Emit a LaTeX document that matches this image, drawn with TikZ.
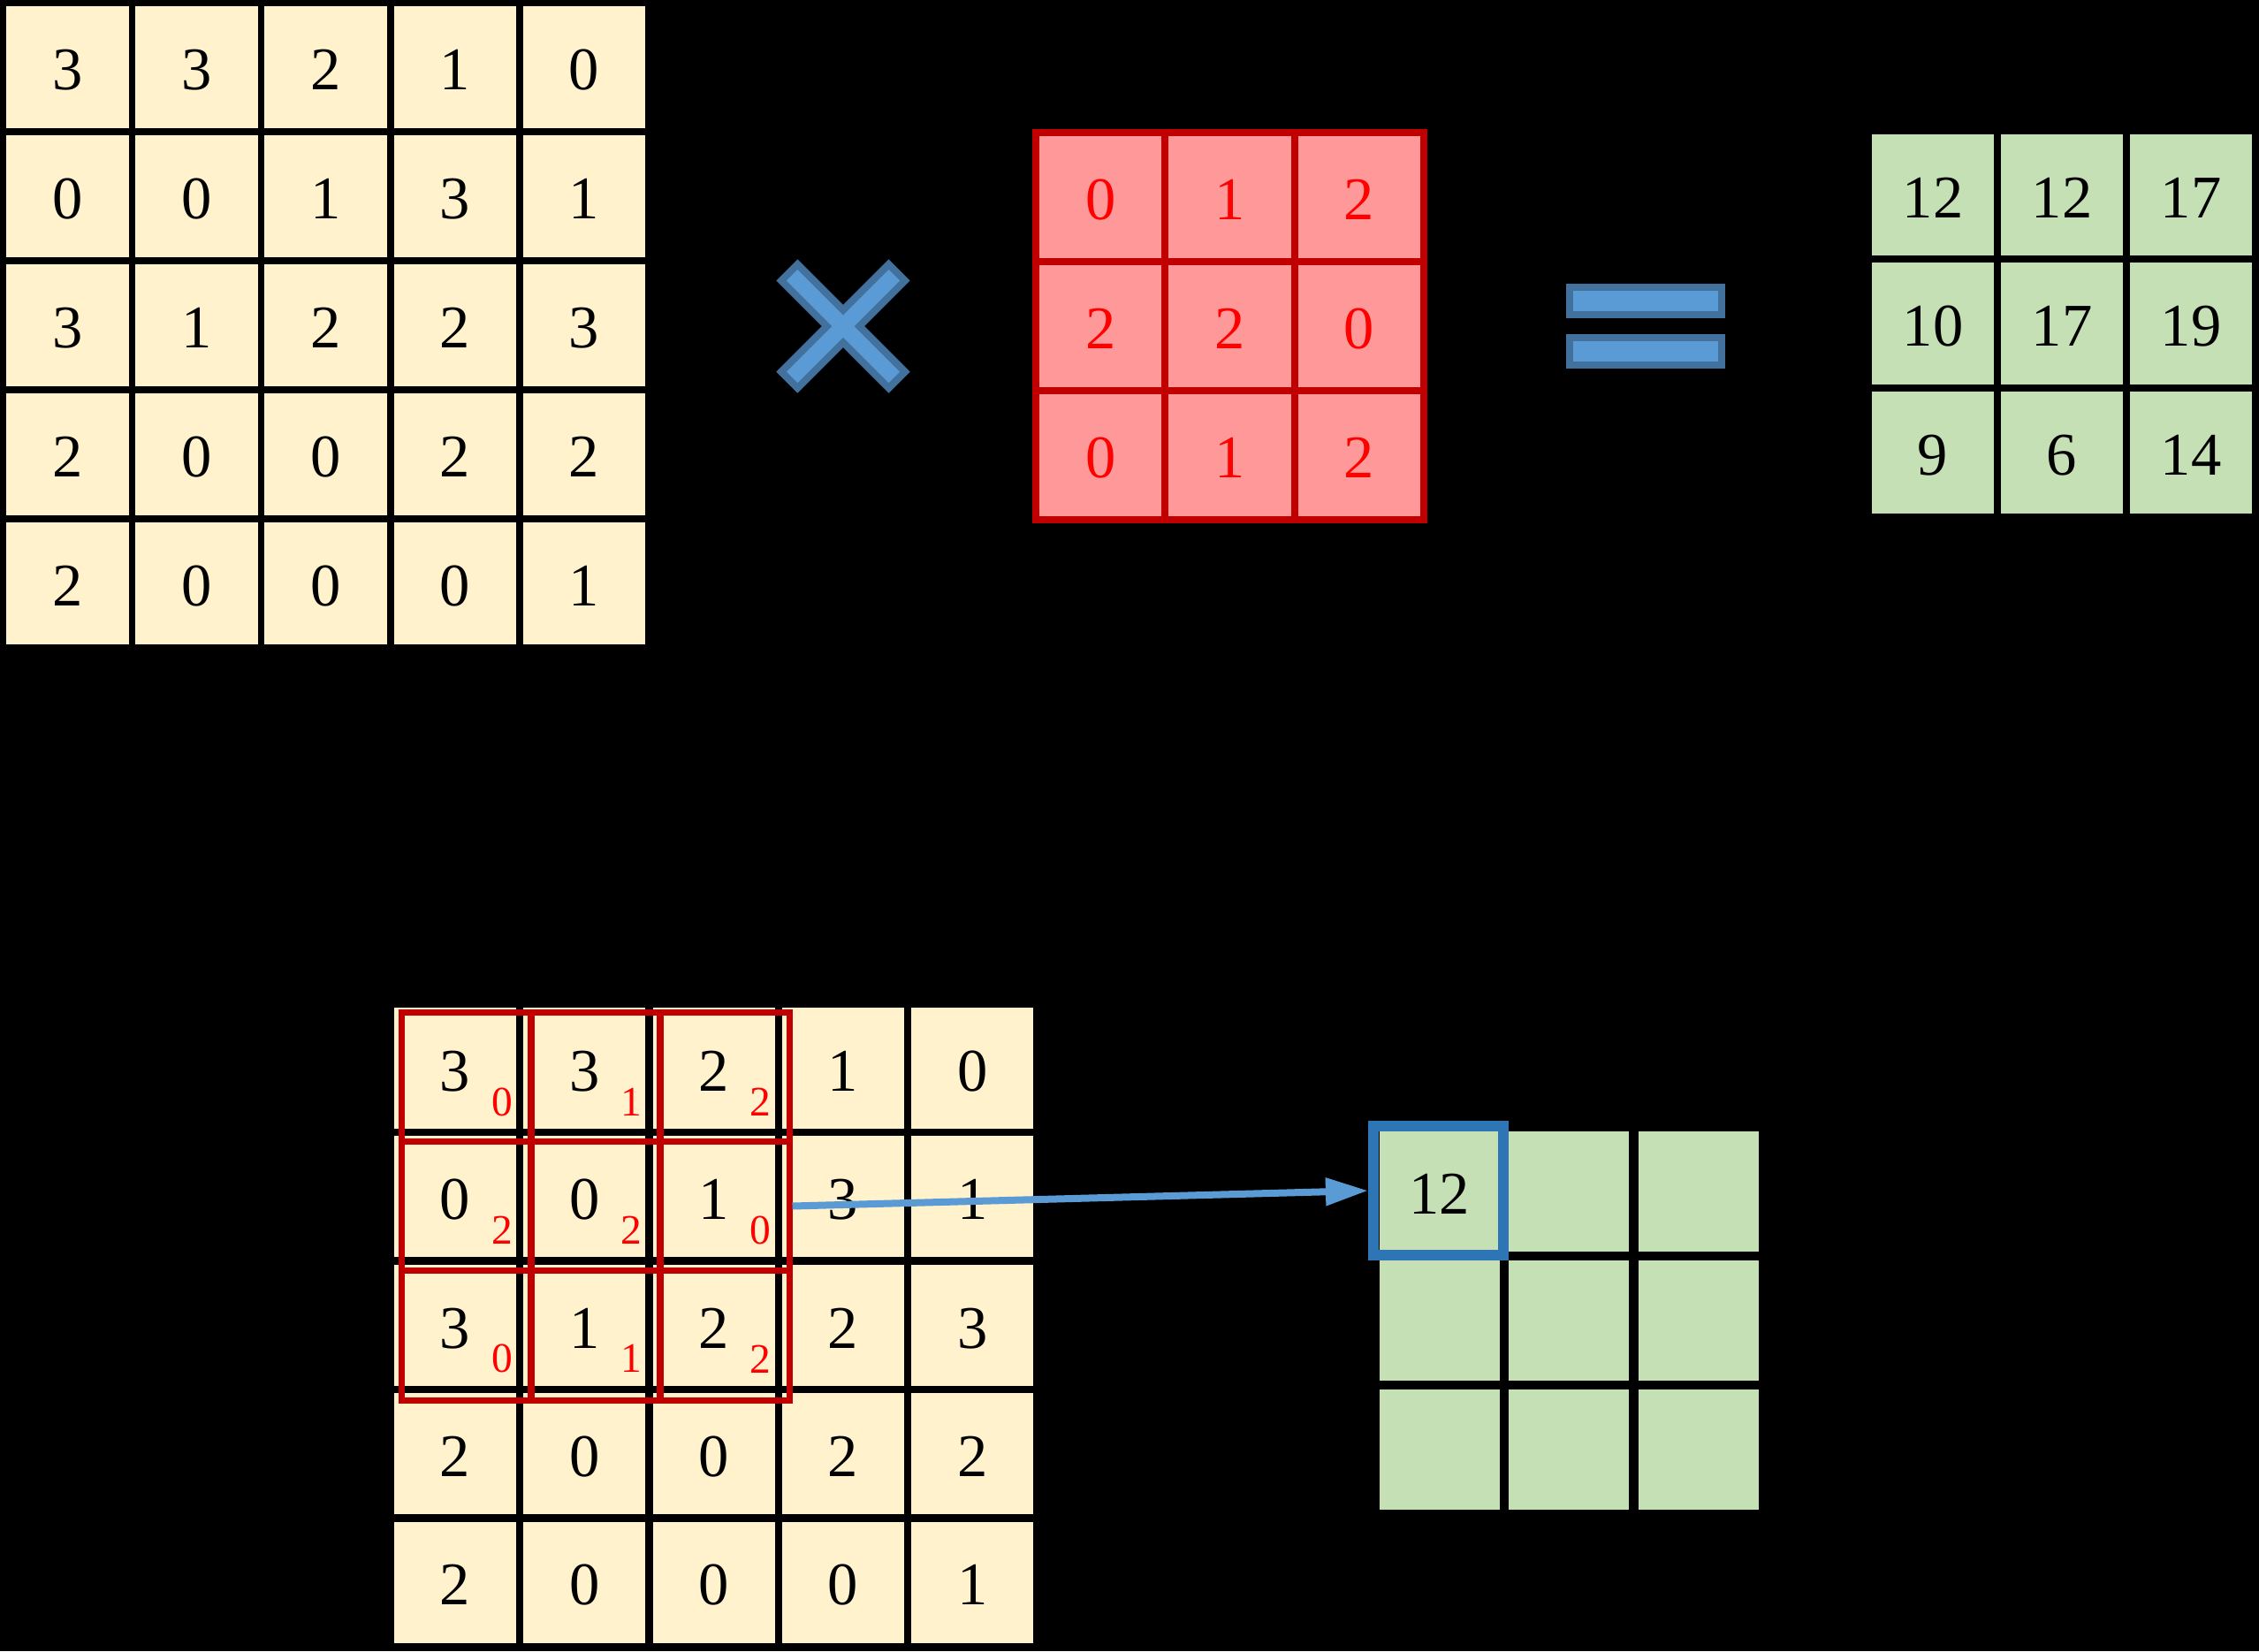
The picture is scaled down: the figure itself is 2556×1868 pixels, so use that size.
\documentclass[tikz,border=0pt]{standalone}
\usepackage{fontspec}
\setmainfont{Liberation Serif}
\usetikzlibrary{arrows.meta}
\definecolor{cellyellow}{HTML}{FFF2CC}
\definecolor{cellgreen}{HTML}{C5E0B4}
\definecolor{kfill}{HTML}{FF9999}
\definecolor{kred}{HTML}{C00000}
\definecolor{tred}{HTML}{FF0000}
\definecolor{sblue}{HTML}{5B9BD5}
\definecolor{sbluedark}{HTML}{41719C}
\definecolor{hlblue}{HTML}{2E75B6}
\begin{document}
\begin{tikzpicture}[x=0.01cm,y=-0.01cm,
  bigtxt/.style={font=\fontsize{19.5}{20}\selectfont, text height=14.6pt, text depth=0pt},
  smalltxt/.style={font=\fontsize{13.5}{14}\selectfont, text=tred, inner sep=0pt},
  cellbase/.style={inner sep=0pt, outer sep=0pt, bigtxt},
  cellY/.style={cellbase, fill=cellyellow, minimum width=1.385cm, minimum height=1.38cm},
  cellYb/.style={cellbase, fill=cellyellow, minimum width=1.38cm, minimum height=1.37cm},
  cellG/.style={cellbase, fill=cellgreen, minimum width=1.385cm, minimum height=1.375cm},
  cellGb/.style={cellbase, fill=cellgreen, minimum width=1.36cm, minimum height=1.36cm},
  kcell/.style={cellbase, fill=kfill, draw=kred, line width=0.08cm, text=tred, minimum width=1.463cm, minimum height=1.46cm},
  ksq/.style={draw=kred, line width=0.07cm, minimum width=1.46cm, minimum height=1.463cm, inner sep=0pt},
  signshape/.style={fill=sblue, draw=sbluedark, line width=0.08cm},
  hlbox/.style={draw=hlblue, line width=0.12cm, minimum width=1.47cm, minimum height=1.46cm, inner sep=0pt},
  flowarrow/.style={draw=sblue, line width=0.08cm, -{Triangle[length=0.48cm,width=0.30cm]}}
]
\fill[black] (0,0) rectangle (2556,1868);
\useasboundingbox (0,0) rectangle (2556,1868);

% input matrix (top)
\foreach \row [count=\r from 0] in {{3,3,2,1,0},{0,0,1,3,1},{3,1,2,2,3},{2,0,0,2,2},{2,0,0,0,1}}{
  \foreach \v [count=\c from 0] in \row {
    \node[cellY] (A-\r-\c) at ({76.25+146.2*\c},{76+146*\r}) {\v};
  }
}

% multiply sign
\draw[signshape, shift={(954,369)}] (0,-18.4) -- (51.6,-70) -- (70,-51.6) -- (18.4,0) -- (70,51.6) -- (51.6,70) -- (0,18.4) -- (-51.6,70) -- (-70,51.6) -- (-18.4,0) -- (-70,-51.6) -- (-51.6,-70) -- cycle;

% kernel
\foreach \row [count=\r from 0] in {{0,1,2},{2,2,0},{0,1,2}}{
  \foreach \v [count=\c from 0] in \row {
    \node[kcell] (K-\r-\c) at ({1245.2+146.3*\c},{223+146*\r}) {\v};
  }
}

% equals sign
\draw[signshape] (1776,325) rectangle (1948,356);
\draw[signshape] (1776,382) rectangle (1948,413);

% output (top)
\foreach \row [count=\r from 0] in {{12,12,17},{10,17,19},{9,6,14}}{
  \foreach \v [count=\c from 0] in \row {
    \node[cellG] (O-\r-\c) at ({2187+146*\c},{220.5+145.7*\r}) {\v};
  }
}

% input matrix (bottom)
\foreach \row [count=\r from 0] in {{3,3,2,1,0},{0,0,1,3,1},{3,1,2,2,3},{2,0,0,2,2},{2,0,0,0,1}}{
  \foreach \v [count=\c from 0] in \row {
    \node[cellYb] (B-\r-\c) at ({515+146.3*\c},{1208.5+145.4*\r}) {\v};
  }
}

% kernel weights (small red digits)
\foreach \row [count=\r from 0] in {{0,1,2},{2,2,0},{0,1,2}}{
  \foreach \v [count=\c from 0] in \row {
    \node[smalltxt] (W-\r-\c) at ({568+146.3*\c},{1246.5+145.4*\r}) {\v};
  }
}

% kernel window squares
\foreach \r in {0,1,2}{
  \foreach \c in {0,1,2}{
    \node[ksq] (R-\r-\c) at ({528+146*\c},{1218.2+146.3*\r}) {};
  }
}

% output (bottom)
\foreach \row [count=\r from 0] in {{12,,},{,,},{,,}}{
  \foreach \v [count=\c from 0] in \row {
    \node[cellGb] (P-\r-\c) at ({1628.6+146.7*\c},{1348+145.9*\r}) {\v};
  }
}
\node[hlbox] (hl) at (1627.5,1347) {};

% arrow
\draw[flowarrow] (R-1-2.east) -- (hl.west);
\end{tikzpicture}
\end{document}
